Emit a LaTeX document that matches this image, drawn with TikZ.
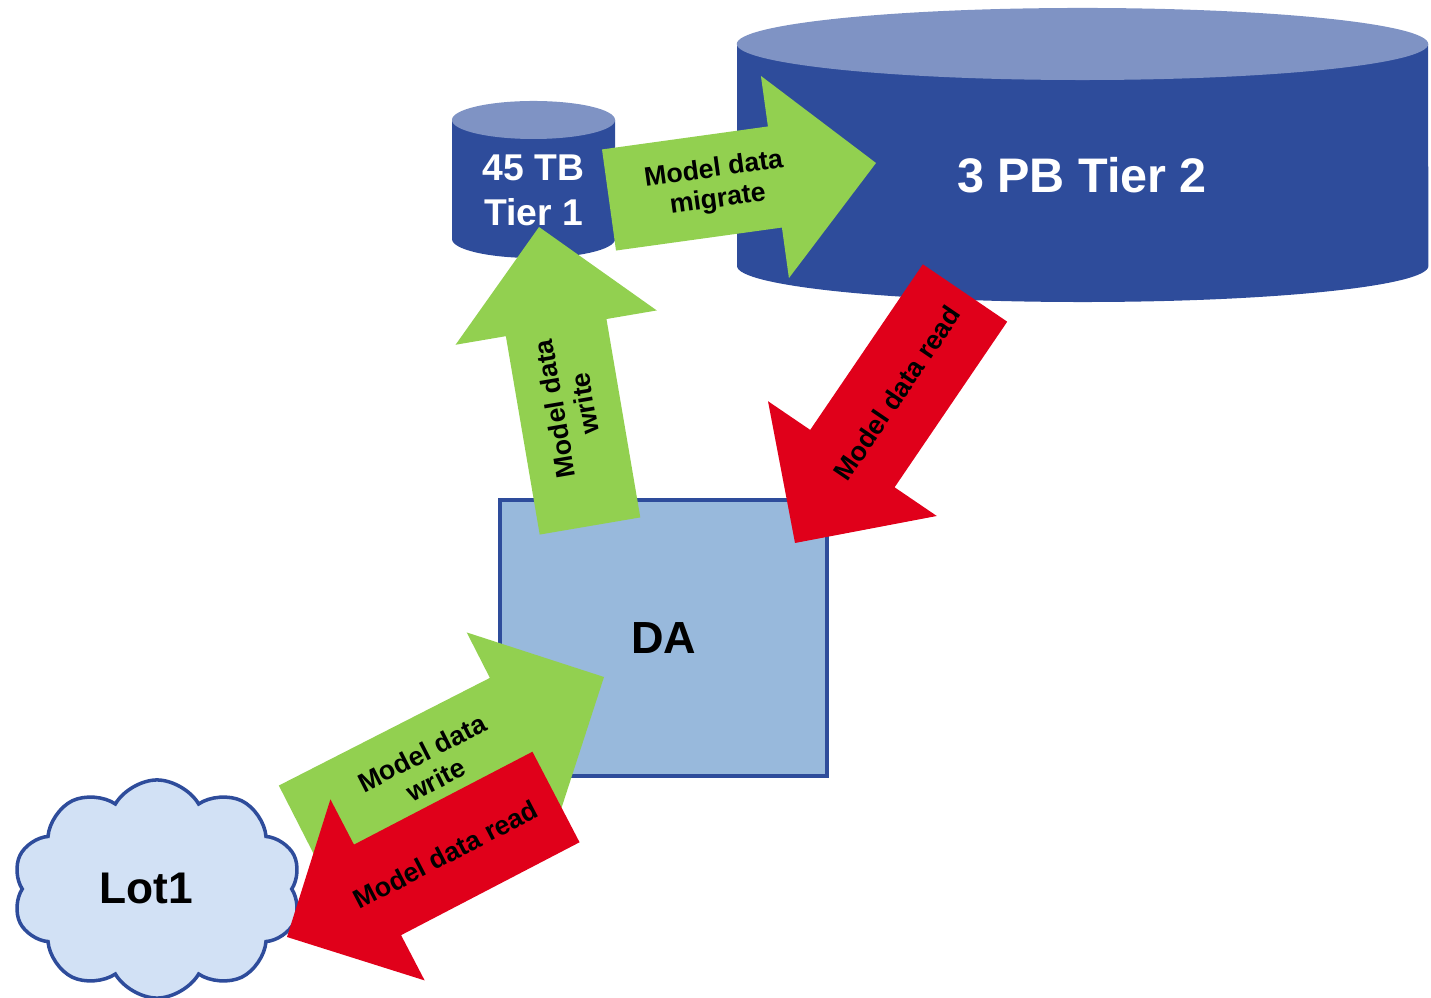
\documentclass[tikz,border=0pt]{standalone}
\usepackage{fontspec}
\setmainfont{Liberation Sans}
\usetikzlibrary{calc,shapes.symbols}
\definecolor{TierBlue}{HTML}{2E4C9B}
\definecolor{TierTop}{HTML}{7F93C4}
\definecolor{FlowGreen}{HTML}{92D050}
\definecolor{FlowRed}{HTML}{E0001A}
\definecolor{DAfill}{HTML}{98B9DC}
\definecolor{LotFill}{HTML}{D2E1F5}

% block arrow: colour, tail, tip
\newcommand{\blockarrow}[3]{%
  \coordinate (#2h) at ($(#3)!1.02cm!(#2)$);
  \fill[#1] ($(#2)!0.51cm!90:(#3)$) -- ($(#2h)!0.51cm!90:(#3)$)
    -- ($(#2h)!1.02cm!90:(#3)$) -- (#3)
    -- ($(#2h)!1.02cm!-90:(#3)$) -- ($(#2h)!0.51cm!-90:(#3)$)
    -- ($(#2)!0.51cm!-90:(#3)$) -- cycle;}

\begin{document}
\begin{tikzpicture}[x=0.01cm,y=-0.01cm,
    lbl/.style={font=\fontsize{7.6}{8.6}\selectfont\bfseries, align=center, inner sep=0pt},
    big/.style={font=\fontsize{13.8}{16}\selectfont\bfseries, inner sep=0pt}]
  \useasboundingbox (0,0) rectangle (1431,998);
  % Tier 2 disk
  \fill[TierBlue] (737,44) -- (737,266)
    arc[start angle=180, end angle=360, x radius=3.455cm, y radius=0.36cm]
    -- (1428,44) -- cycle;
  \fill[TierTop] (1082.5,44) ellipse [x radius=3.455cm, y radius=0.36cm];
  \node[big, text=white] (tiertwo) at (1082,175) {3 PB Tier 2};
  % Tier 1 disk
  \fill[TierBlue] (452,120) -- (452,239)
    arc[start angle=180, end angle=360, x radius=0.815cm, y radius=0.19cm]
    -- (615,120) -- cycle;
  \fill[TierTop] (533.5,120) ellipse [x radius=0.815cm, y radius=0.19cm];
  \node[text=white, font=\fontsize{10.6}{12.8}\selectfont\bfseries, align=center,
        inner sep=0pt] (tierone) at (533.5,190) {45 TB\\Tier 1};
  % DA box and Lot1 cloud
  \node[draw=TierBlue, line width=1pt, fill=DAfill, minimum width=3.27cm,
        minimum height=2.76cm, font=\fontsize{12.8}{15}\selectfont\bfseries]
        (da) at (663.5,638) {DA};
  \node[cloud, cloud puffs=10, cloud puff arc=120, cloud ignores aspect,
        draw=TierBlue, line width=1pt, fill=LotFill, minimum width=2.88cm,
        minimum height=2.18cm] (lot) at (157,889) {};
  \node[font=\fontsize{12.6}{15}\selectfont\bfseries, inner sep=0pt]
        (lottxt) at (146,888) {Lot1};

  % arrow ends
  \coordinate (mt) at (609,200);  \coordinate (mp) at (876,163);
  \coordinate (wt) at (590,526);  \coordinate (wp) at (539,227);
  \coordinate (rt) at (965,293);  \coordinate (rp) at (795,543);
  \coordinate (lt) at (302,831);  \coordinate (lp) at (604,677);
  \coordinate (dt) at (556,797);  \coordinate (dp) at (287,937);

  \blockarrow{FlowGreen}{mt}{mp}
  \blockarrow{FlowGreen}{wt}{wp}
  \blockarrow{FlowRed}{rt}{rp}
  \blockarrow{FlowGreen}{lt}{lp}
  \blockarrow{FlowRed}{dt}{dp}

  \path (mt) -- node[lbl, sloped, pos=0.4] (migtxt) {Model data\\migrate} (mp);
  \path (wt) -- node[lbl, sloped, allow upside down, pos=0.4] (wrtxt) {Model data\\write} (wp);
  \path (rt) -- node[lbl, sloped, pos=0.4] (rdtxt) {Model data read} (rp);
  \path (lt) -- node[lbl, sloped, pos=0.42] (lwtxt) {Model data\\write} (lp);
  \path (dt) -- node[lbl, sloped, pos=0.41] (lrtxt) {Model data read} (dp);
\end{tikzpicture}
\end{document}
